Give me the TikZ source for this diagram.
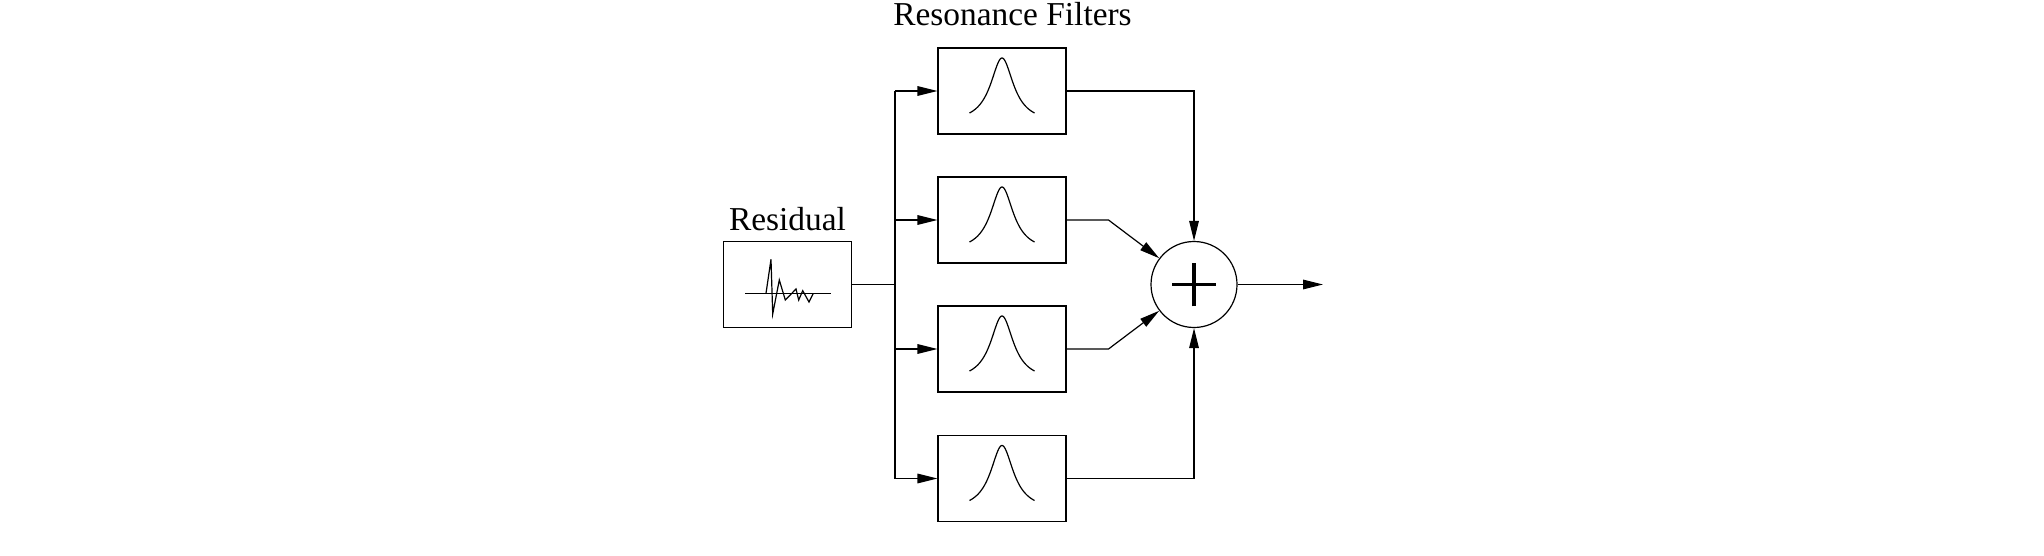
\documentclass[tikz,border=0pt]{standalone}
\usepackage{fontspec}
\setmainfont{Liberation Serif}
\usetikzlibrary{arrows.meta}
\begin{document}
\begin{tikzpicture}[x=0.5pt,y=-0.5pt,
  line width=0.6pt,
  box/.style={draw,rectangle,minimum width=64pt,minimum height=43pt,inner sep=0pt},
  sumnode/.style={draw,circle,minimum size=43pt,inner sep=0pt},
  arr/.style={-{Triangle[length=10pt,width=4.8pt]}},
  lbl/.style={anchor=base,inner sep=0pt,font=\fontsize{16.7pt}{20pt}\selectfont},
  peakcurve/.style={line width=0.6pt}]
\useasboundingbox (0,0) rectangle (2044,556);
% nodes
\node[box] (res) at (787.5,284.5) {};
\node[box] (f1) at (1002,91) {};
\node[box] (f2) at (1002,220) {};
\node[box] (f3) at (1002,349) {};
\node[box] (f4) at (1002,478.5) {};
\node[sumnode] (sum) at (1194,284.5) {};
\node[lbl] (tres) at (787.5,230) {Residual};
\node[lbl] (tfil) at (1012.5,25.7) {Resonance Filters};
% coordinates
\coordinate (bus) at (895,284.5);
\coordinate (k2) at (1108.5,220);
\coordinate (k3) at (1108.5,349);
\coordinate (out) at (1323,284.5);
% connectors
\draw (res.east) -- (bus);
\draw (bus |- f1.west) -- (bus |- f4.west);
\foreach \f in {f1,f2,f3,f4}{
  \draw[arr] (bus |- \f.west) -- (\f.west);
}
\draw[arr] (f1.east) -| (sum.north);
\draw[arr] (f4.east) -| (sum.south);
\draw[arr] (f2.east) -- (k2) -- (sum);
\draw[arr] (f3.east) -- (k3) -- (sum);
\draw[arr] (sum.east) -- (out);
% plus sign
\draw[line width=1.65pt] ([xshift=-10.9pt]sum.center) -- ([xshift=10.9pt]sum.center);
\draw[line width=1.65pt] ([yshift=-10.9pt]sum.center) -- ([yshift=10.9pt]sum.center);
% residual waveform
\draw (745,293.3) -- (830.7,293.3);
\draw[line join=miter] (766,293.3) -- (771,259.3) -- (772.7,314) -- (779.3,280) -- (785.3,300)
  -- (796,289) -- (798.7,300) -- (802.7,290.7) -- (809,302) -- (813.3,293.3);
% resonance peaks
\foreach \f in {f1,f2,f3,f4}{
  \draw[peakcurve,shift={(\f.center)}] plot[domain=-32.5:32.5,samples=90,smooth]
    (\x,{22-55*(1/(1+(\x/14)^2)-0.1565)/0.8435});
}
\end{tikzpicture}
\end{document}
